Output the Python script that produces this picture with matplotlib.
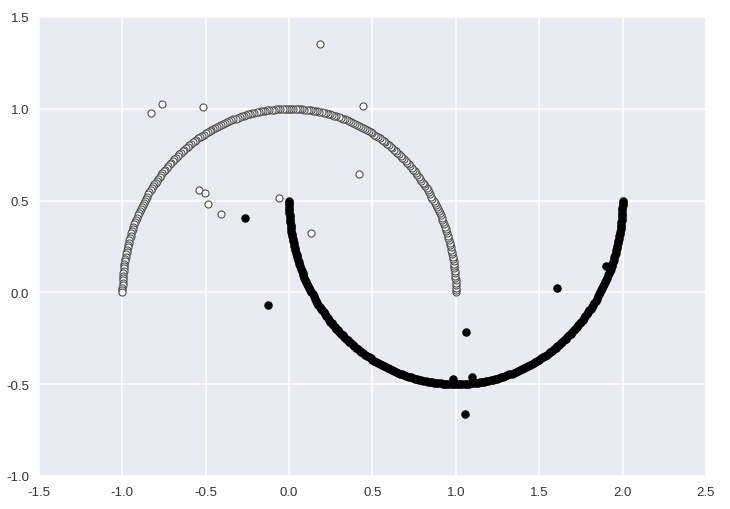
import matplotlib
matplotlib.use('Agg')
import matplotlib.pyplot as plt

# upper moon (class 0, white markers)
upper_x = [
    1.000, 1.000, 1.000, 0.999, 0.999, 0.998, 0.997, 0.996, 0.995, 0.993, 0.991,
    0.990, 0.988, 0.986, 0.983, 0.981, 0.978, 0.975, 0.972, 0.969, 0.966,
    0.962, 0.959, 0.955, 0.951, 0.947, 0.943, 0.938, 0.934, 0.929, 0.924,
    0.919, 0.914, 0.908, 0.903, 0.897, 0.891, 0.885, 0.879, 0.873, 0.866,
    0.859, 0.853, 0.846, 0.839, 0.831, 0.824, 0.817, 0.809, 0.801, 0.793,
    0.785, 0.777, 0.769, 0.760, 0.752, 0.743, 0.734, 0.725, 0.716, 0.707,
    0.698, 0.688, 0.679, 0.669, 0.659, 0.649, 0.639, 0.629, 0.619, 0.609,
    0.598, 0.588, 0.577, 0.566, 0.556, 0.545, 0.534, 0.522, 0.511, 0.500,
    0.489, 0.477, 0.466, 0.454, 0.442, 0.431, 0.419, 0.407, 0.395, 0.383,
    0.371, 0.358, 0.346, 0.334, 0.321, 0.309, 0.297, 0.284, 0.271, 0.259,
    0.246, 0.233, 0.221, 0.208, 0.195, 0.182, 0.169, 0.156, 0.143, 0.131,
    0.118, 0.105, 0.092, 0.078, 0.065, 0.052, 0.039, 0.026, 0.013, 0.000,
    -0.013, -0.026, -0.039, -0.052, -0.065, -0.078, -0.092, -0.105, -0.118,
    -0.131, -0.143, -0.156, -0.169, -0.182, -0.195, -0.208, -0.221, -0.233, -0.246,
    -0.259, -0.271, -0.284, -0.297, -0.309, -0.321, -0.334, -0.346, -0.358, -0.371,
    -0.383, -0.395, -0.407, -0.419, -0.431, -0.442, -0.454, -0.466, -0.477, -0.489,
    -0.500, -0.511, -0.522, -0.534, -0.545, -0.556, -0.566, -0.577, -0.588, -0.598,
    -0.609, -0.619, -0.629, -0.639, -0.649, -0.659, -0.669, -0.679, -0.688, -0.698,
    -0.707, -0.716, -0.725, -0.734, -0.743, -0.752, -0.760, -0.769, -0.777, -0.785,
    -0.793, -0.801, -0.809, -0.817, -0.824, -0.831, -0.839, -0.846, -0.853, -0.859,
    -0.866, -0.873, -0.879, -0.885, -0.891, -0.897, -0.903, -0.908, -0.914, -0.919,
    -0.924, -0.929, -0.934, -0.938, -0.943, -0.947, -0.951, -0.955, -0.959, -0.962,
    -0.966, -0.969, -0.972, -0.975, -0.978, -0.981, -0.983, -0.986, -0.988, -0.990,
    -0.991, -0.993, -0.995, -0.996, -0.997, -0.998, -0.999, -0.999, -1.000, -1.000,
    -1.000]
upper_y = [
    0.000, 0.013, 0.026, 0.039, 0.052, 0.065, 0.078, 0.092, 0.105, 0.118,
    0.131, 0.143, 0.156, 0.169, 0.182, 0.195, 0.208, 0.221, 0.233, 0.246,
    0.259, 0.271, 0.284, 0.297, 0.309, 0.321, 0.334, 0.346, 0.358, 0.371,
    0.383, 0.395, 0.407, 0.419, 0.431, 0.442, 0.454, 0.466, 0.477, 0.489,
    0.500, 0.511, 0.522, 0.534, 0.545, 0.556, 0.566, 0.577, 0.588, 0.598,
    0.609, 0.619, 0.629, 0.639, 0.649, 0.659, 0.669, 0.679, 0.688, 0.698,
    0.707, 0.716, 0.725, 0.734, 0.743, 0.752, 0.760, 0.769, 0.777, 0.785,
    0.793, 0.801, 0.809, 0.817, 0.824, 0.831, 0.839, 0.846, 0.853, 0.859,
    0.866, 0.873, 0.879, 0.885, 0.891, 0.897, 0.903, 0.908, 0.914, 0.919,
    0.924, 0.929, 0.934, 0.938, 0.943, 0.947, 0.951, 0.955, 0.959, 0.962,
    0.966, 0.969, 0.972, 0.975, 0.978, 0.981, 0.983, 0.986, 0.988, 0.990,
    0.991, 0.993, 0.995, 0.996, 0.997, 0.998, 0.999, 0.999, 1.000, 1.000,
    1.000,
    1.000, 1.000, 0.999, 0.999, 0.998, 0.997, 0.996, 0.995, 0.993, 0.991,
    0.990, 0.988, 0.986, 0.983, 0.981, 0.978, 0.975, 0.972, 0.969, 0.966,
    0.962, 0.959, 0.955, 0.951, 0.947, 0.943, 0.938, 0.934, 0.929, 0.924,
    0.919, 0.914, 0.908, 0.903, 0.897, 0.891, 0.885, 0.879, 0.873, 0.866,
    0.859, 0.853, 0.846, 0.839, 0.831, 0.824, 0.817, 0.809, 0.801, 0.793,
    0.785, 0.777, 0.769, 0.760, 0.752, 0.743, 0.734, 0.725, 0.716, 0.707,
    0.698, 0.688, 0.679, 0.669, 0.659, 0.649, 0.639, 0.629, 0.619, 0.609,
    0.598, 0.588, 0.577, 0.566, 0.556, 0.545, 0.534, 0.522, 0.511, 0.500,
    0.489, 0.477, 0.466, 0.454, 0.442, 0.431, 0.419, 0.407, 0.395, 0.383,
    0.371, 0.358, 0.346, 0.334, 0.321, 0.309, 0.297, 0.284, 0.271, 0.259,
    0.246, 0.233, 0.221, 0.208, 0.195, 0.182, 0.169, 0.156, 0.143, 0.131,
    0.118, 0.105, 0.092, 0.078, 0.065, 0.052, 0.039, 0.026, 0.013, 0.000]

# lower moon (class 1, black markers)
lower_x = [
    0.000, 0.000, 0.000, 0.001, 0.001, 0.002, 0.003, 0.004, 0.005, 0.007, 0.009,
    0.010, 0.012, 0.014, 0.017, 0.019, 0.022, 0.025, 0.028, 0.031, 0.034,
    0.038, 0.041, 0.045, 0.049, 0.053, 0.057, 0.062, 0.066, 0.071, 0.076,
    0.081, 0.086, 0.092, 0.097, 0.103, 0.109, 0.115, 0.121, 0.127, 0.134,
    0.141, 0.147, 0.154, 0.161, 0.169, 0.176, 0.183, 0.191, 0.199, 0.207,
    0.215, 0.223, 0.231, 0.240, 0.248, 0.257, 0.266, 0.275, 0.284, 0.293,
    0.302, 0.312, 0.321, 0.331, 0.341, 0.351, 0.361, 0.371, 0.381, 0.391,
    0.402, 0.412, 0.423, 0.434, 0.444, 0.455, 0.466, 0.478, 0.489, 0.500,
    0.511, 0.523, 0.534, 0.546, 0.558, 0.569, 0.581, 0.593, 0.605, 0.617,
    0.629, 0.642, 0.654, 0.666, 0.679, 0.691, 0.703, 0.716, 0.729, 0.741,
    0.754, 0.767, 0.779, 0.792, 0.805, 0.818, 0.831, 0.844, 0.857, 0.869,
    0.882, 0.895, 0.908, 0.922, 0.935, 0.948, 0.961, 0.974, 0.987, 1.000,
    1.013, 1.026, 1.039, 1.052, 1.065, 1.078, 1.092, 1.105, 1.118,
    1.131, 1.143, 1.156, 1.169, 1.182, 1.195, 1.208, 1.221, 1.233, 1.246,
    1.259, 1.271, 1.284, 1.297, 1.309, 1.321, 1.334, 1.346, 1.358, 1.371,
    1.383, 1.395, 1.407, 1.419, 1.431, 1.442, 1.454, 1.466, 1.477, 1.489,
    1.500, 1.511, 1.522, 1.534, 1.545, 1.556, 1.566, 1.577, 1.588, 1.598,
    1.609, 1.619, 1.629, 1.639, 1.649, 1.659, 1.669, 1.679, 1.688, 1.698,
    1.707, 1.716, 1.725, 1.734, 1.743, 1.752, 1.760, 1.769, 1.777, 1.785,
    1.793, 1.801, 1.809, 1.817, 1.824, 1.831, 1.839, 1.846, 1.853, 1.859,
    1.866, 1.873, 1.879, 1.885, 1.891, 1.897, 1.903, 1.908, 1.914, 1.919,
    1.924, 1.929, 1.934, 1.938, 1.943, 1.947, 1.951, 1.955, 1.959, 1.962,
    1.966, 1.969, 1.972, 1.975, 1.978, 1.981, 1.983, 1.986, 1.988, 1.990,
    1.991, 1.993, 1.995, 1.996, 1.997, 1.998, 1.999, 1.999, 2.000, 2.000,
    2.000]
lower_y = [
    0.500, 0.487, 0.474, 0.461, 0.448, 0.435, 0.422, 0.408, 0.395, 0.382,
    0.369, 0.357, 0.344, 0.331, 0.318, 0.305, 0.292, 0.279, 0.267, 0.254,
    0.241, 0.229, 0.216, 0.203, 0.191, 0.179, 0.166, 0.154, 0.142, 0.129,
    0.117, 0.105, 0.093, 0.081, 0.069, 0.058, 0.046, 0.034, 0.023, 0.011,
    0.000, -0.011, -0.022, -0.034, -0.045, -0.056, -0.066, -0.077, -0.088, -0.098,
    -0.109, -0.119, -0.129, -0.139, -0.149, -0.159, -0.169, -0.179, -0.188, -0.198,
    -0.207, -0.216, -0.225, -0.234, -0.243, -0.252, -0.260, -0.269, -0.277, -0.285,
    -0.293, -0.301, -0.309, -0.317, -0.324, -0.331, -0.339, -0.346, -0.353, -0.359,
    -0.366, -0.373, -0.379, -0.385, -0.391, -0.397, -0.403, -0.408, -0.414, -0.419,
    -0.424, -0.429, -0.434, -0.438, -0.443, -0.447, -0.451, -0.455, -0.459, -0.462,
    -0.466, -0.469, -0.472, -0.475, -0.478, -0.481, -0.483, -0.486, -0.488, -0.490,
    -0.491, -0.493, -0.495, -0.496, -0.497, -0.498, -0.499, -0.499, -0.500, -0.500,
    -0.500,
    -0.500, -0.500, -0.499, -0.499, -0.498, -0.497, -0.496, -0.495, -0.493, -0.491,
    -0.490, -0.488, -0.486, -0.483, -0.481, -0.478, -0.475, -0.472, -0.469, -0.466,
    -0.462, -0.459, -0.455, -0.451, -0.447, -0.443, -0.438, -0.434, -0.429, -0.424,
    -0.419, -0.414, -0.408, -0.403, -0.397, -0.391, -0.385, -0.379, -0.373, -0.366,
    -0.359, -0.353, -0.346, -0.339, -0.331, -0.324, -0.317, -0.309, -0.301, -0.293,
    -0.285, -0.277, -0.269, -0.260, -0.252, -0.243, -0.234, -0.225, -0.216, -0.207,
    -0.198, -0.188, -0.179, -0.169, -0.159, -0.149, -0.139, -0.129, -0.119, -0.109,
    -0.098, -0.088, -0.077, -0.066, -0.056, -0.045, -0.034, -0.022, -0.011, 0.000,
    0.011, 0.023, 0.034, 0.046, 0.058, 0.069, 0.081, 0.093, 0.105, 0.117,
    0.129, 0.142, 0.154, 0.166, 0.179, 0.191, 0.203, 0.216, 0.229, 0.241,
    0.254, 0.267, 0.279, 0.292, 0.305, 0.318, 0.331, 0.344, 0.357, 0.369,
    0.382, 0.395, 0.408, 0.422, 0.435, 0.448, 0.461, 0.474, 0.487, 0.500]

# outliers
white_out_x = [-0.83, -0.76, -0.515, 0.186, 0.441, 0.417, -0.062, 0.134, -0.543, -0.507, -0.489, -0.409]
white_out_y = [0.977, 1.026, 1.012, 1.351, 1.017, 0.643, 0.512, 0.323, 0.557, 0.539, 0.481, 0.427]
black_out_x = [-0.263, -0.124, 1.607, 1.06, 0.98, 1.096, 1.056, 1.898]
black_out_y = [0.403, -0.067, 0.026, -0.213, -0.469, -0.461, -0.663, 0.145]

xticks = [-1.5, -1.0, -0.5, 0.0, 0.5, 1.0, 1.5, 2.0, 2.5]
yticks = [-1.0, -0.5, 0.0, 0.5, 1.0, 1.5]

plt.rcParams['font.family'] = ['Liberation Sans', 'DejaVu Sans']

fig = plt.figure(figsize=(7.3, 5.1), dpi=100)
ax = fig.add_axes([39 / 730, 33 / 510, 667 / 730, 459 / 510])
ax.set_facecolor('#EAEAF2')
for s in ax.spines.values():
    s.set_visible(False)
ax.grid(True, color='white', linewidth=1.2)
ax.set_axisbelow(True)

ax.scatter(upper_x + white_out_x, upper_y + white_out_y, s=26, c='white',
           edgecolors='0.3', linewidths=0.8, zorder=3)
ax.scatter(lower_x + black_out_x, lower_y + black_out_y, s=26, c='black',
           edgecolors='black', linewidths=1.0, zorder=3)

ax.set_xlim(-1.5, 2.5)
ax.set_ylim(-1.0, 1.5)
ax.set_xticks(xticks)
ax.set_yticks(yticks)
ax.set_xticklabels([f'{t:.1f}' for t in xticks])
ax.set_yticklabels([f'{t:.1f}' for t in yticks])
ax.tick_params(length=0, labelsize=9.5, colors='#333333', pad=7)

fig.savefig('out.png', dpi=100)
